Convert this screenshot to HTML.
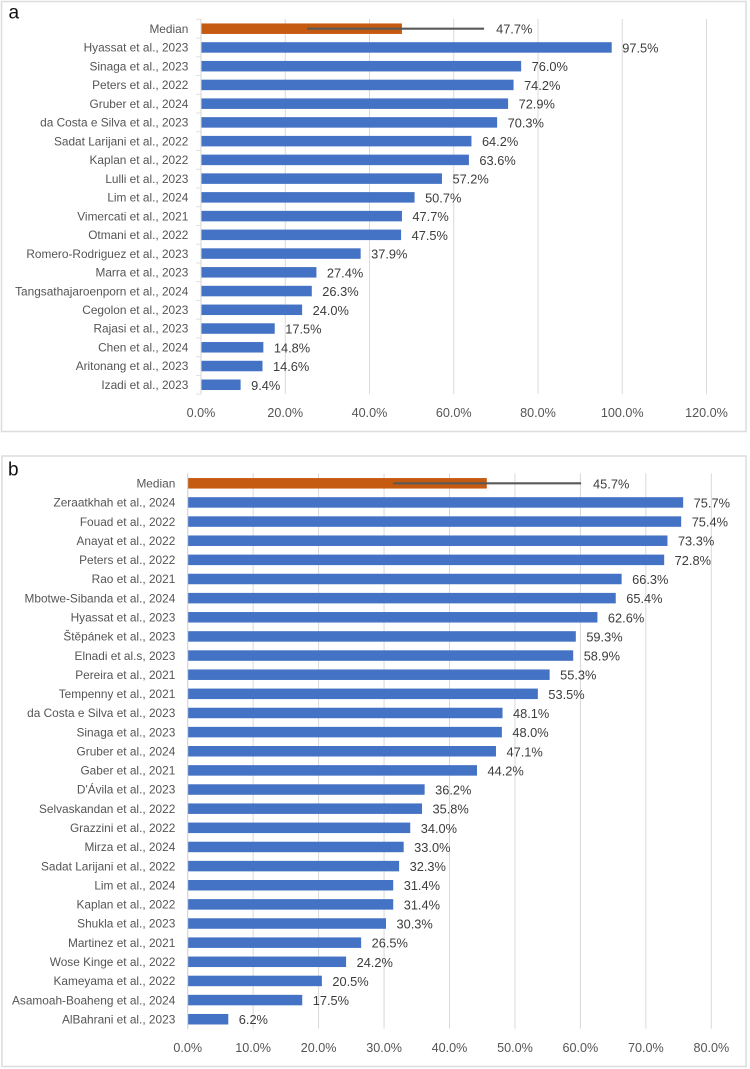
<!DOCTYPE html>
<html lang="en">
<head>
<meta charset="utf-8">
<title>Median bar charts a and b</title>
<style>
html,body{margin:0;padding:0;background:#fff;width:750px;height:1069px;overflow:hidden}
svg{display:block}
text{font-family:"Liberation Sans",sans-serif}
.cat{font-size:11.85px;fill:#555;text-anchor:end}
.tick{font-size:12.6px;fill:#555;text-anchor:middle}
.val{font-size:12.8px;fill:#3c3c3c}
.letter{font-size:19px;fill:#111}
</style>
</head>
<body>
<svg id="figure" xmlns="http://www.w3.org/2000/svg" width="750" height="1069" viewBox="0 0 750 1069">
  <rect x="1.5" y="1.5" width="744.5" height="430" fill="#fff" stroke="#dcdcdc" stroke-width="1.5"/>
  <text class="letter" x="8.5" y="18.5">a</text>
  <g id="chart-a"></g>
  <rect x="2" y="456" width="744" height="610.5" fill="#fff" stroke="#dcdcdc" stroke-width="1.5"/>
  <text class="letter" x="8" y="475.5">b</text>
  <g id="chart-b"></g>
</svg>
<script>
const categoriesA = ["Median","Hyassat et al., 2023","Sinaga et al., 2023","Peters et al., 2022","Gruber et al., 2024","da Costa e Silva et al., 2023","Sadat Larijani et al., 2022","Kaplan et al., 2022","Lulli et al., 2023","Lim et al., 2024","Vimercati et al., 2021","Otmani et al., 2022","Romero-Rodriguez et al., 2023","Marra et al., 2023","Tangsathajaroenporn et al., 2024","Cegolon et al., 2023","Rajasi et al., 2023","Chen et al., 2024","Aritonang et al., 2023","Izadi et al., 2023"];
const valuesA = [47.7,97.5,76.0,74.2,72.9,70.3,64.2,63.6,57.2,50.7,47.7,47.5,37.9,27.4,26.3,24.0,17.5,14.8,14.6,9.4];
const ticksA = [0,20,40,60,80,100,120];
const errorLowA = 25.2;
const errorHighA = 67.2;

const categoriesB = ["Median","Zeraatkhah et al., 2024","Fouad et al., 2022","Anayat et al., 2022","Peters et al., 2022","Rao et al., 2021","Mbotwe-Sibanda et al., 2024","Hyassat et al., 2023","Štěpánek et al., 2023","Elnadi et al.s, 2023","Pereira et al., 2021","Tempenny et al., 2021","da Costa e Silva et al., 2023","Sinaga et al., 2023","Gruber et al., 2024","Gaber et al., 2021","D'Ávila et al., 2023","Selvaskandan et al., 2022","Grazzini et al., 2022","Mirza et al., 2024","Sadat Larijani et al., 2022","Lim et al., 2024","Kaplan et al., 2022","Shukla et al., 2023","Martinez et al., 2021","Wose Kinge et al., 2022","Kameyama et al., 2022","Asamoah-Boaheng et al., 2024","AlBahrani et al., 2023"];
const valuesB = [45.7,75.7,75.4,73.3,72.8,66.3,65.4,62.6,59.3,58.9,55.3,53.5,48.1,48.0,47.1,44.2,36.2,35.8,34.0,33.0,32.3,31.4,31.4,30.3,26.5,24.2,20.5,17.5,6.2];
const ticksB = [0,10,20,30,40,50,60,70,80];
const errorLowB = 31.4;
const errorHighB = 60.1;

const NS = "http://www.w3.org/2000/svg";
function mk(tag, attrs, parent, txt) {
  const el = document.createElementNS(NS, tag);
  for (const k in attrs) el.setAttribute(k, attrs[k]);
  if (txt !== undefined) el.textContent = txt;
  parent.appendChild(el);
  return el;
}
function drawChart(root, cats, vals, ticks, errLow, errHigh, o) {
  const xScale = v => o.x0 + v * o.pxPerPct;
  const yScale = i => o.yFirst + i * o.rowStep;
  ticks.forEach(t => {
    const grid = mk("line", {x1:xScale(t), x2:xScale(t), y1:o.axisTop, y2:o.axisBottom, stroke:"#d9d9d9", "stroke-width":1}, root);
    
    
    const label = mk("text", {class:"tick", x:xScale(t), y:o.tickY}, root, t.toFixed(1) + "%");
    
    
  });
  if (o.catTicks) {
    for (let i = 0; i <= cats.length; i++) {
      const y = yScale(i) - o.rowStep / 2;
      const mark = mk("line", {x1:xScale(0) - 5, x2:xScale(0), y1:y, y2:y, stroke:"#e0e0e0", "stroke-width":1}, root);
      
      
    }
  }
  cats.forEach((c, i) => {
    const y = yScale(i);
    const label = mk("text", {class:"cat", x:o.catX, y:y + 4.2}, root, c);
    
    
    const bar = mk("rect", {x:xScale(0), y:y - o.barH / 2, width:xScale(vals[i]) - xScale(0), height:o.barH, fill:i === 0 ? "#c55a11" : "#4472c4"}, root);
    
    
    const valueEnd = i === 0 ? xScale(errHigh) + 1.5 : xScale(vals[i]);
    const value = mk("text", {class:"val", x:valueEnd + 10.5, y:y + 5}, root, vals[i].toFixed(1) + "%");
    
    
  });
  const err = mk("line", {x1:xScale(errLow), x2:xScale(errHigh), y1:yScale(0), y2:yScale(0), stroke:"#595959", "stroke-width":2.2}, root);
  
  
  const axis = mk("line", {x1:xScale(0), x2:xScale(0), y1:o.axisTop, y2:o.axisBottom, stroke:"#d4d4d4", "stroke-width":1}, root);
  
  
}
drawChart(document.getElementById("chart-a"), categoriesA, valuesA, ticksA, errorLowA, errorHighA,
  {x0:201, pxPerPct:4.2125, yFirst:28.7, rowStep:18.74, barH:10.5, axisTop:19, axisBottom:394, tickY:417.2, catX:188.3, catTicks:true});
drawChart(document.getElementById("chart-b"), categoriesB, valuesB, ticksB, errorLowB, errorHighB,
  {x0:187.7, pxPerPct:6.545, yFirst:483.3, rowStep:19.14, barH:10.5, axisTop:473.3, axisBottom:1028.7, tickY:1051.8, catX:175.3, catTicks:false});
</script>
</body>
</html>
